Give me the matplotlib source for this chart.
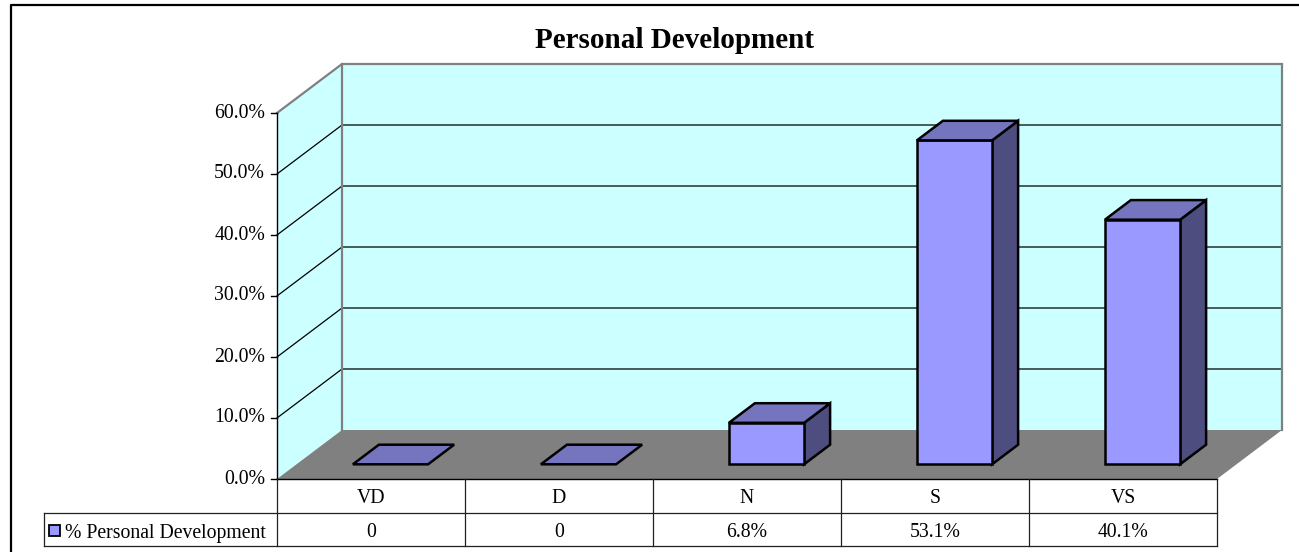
import matplotlib
matplotlib.use("Agg")
import matplotlib.pyplot as plt
from matplotlib.patches import Polygon, Rectangle

# ---- data ----
title = "Personal Development"
series_name = "% Personal Development"
categories = ["VD", "D", "N", "S", "VS"]
values = [0.0, 0.0, 6.8, 53.1, 40.1]
value_labels = ["0", "0", "6.8%", "53.1%", "40.1%"]
y_ticks = [0, 10, 20, 30, 40, 50, 60]
y_tick_labels = ["0.0%", "10.0%", "20.0%", "30.0%", "40.0%", "50.0%", "60.0%"]

# ---- style / geometry (pixels) ----
W, H = 1299, 552
FONT = "Liberation Serif"
FS = 14.2
x0, y0 = 277, 479           # front-left-bottom corner of plot
cat_w = 188                 # width of one category on front plane
ymax = 60.0
px_per_unit = (479 - 113) / ymax
ddx, ddy = 65, -49          # full depth offset
f_front, f_back = 0.3, 0.7  # bar depth placement
bar_frac = 0.4              # bar width as fraction of category

C_WALL = "#CCFFFF"
C_FLOOR = "#808080"
C_FRONT = "#9999FF"
C_TOP = "#7575BF"
C_SIDE = "#4D4D80"

fig = plt.figure(figsize=(W / 100, H / 100), dpi=100)
ax = fig.add_axes([0, 0, 1, 1])
ax.set_xlim(0, W)
ax.set_ylim(H, 0)
ax.axis("off")

n = len(categories)
x1 = x0 + n * cat_w


def proj(xf, v, depth):
    """front-plane x, value, depth fraction -> pixel coords"""
    return (xf + depth * ddx, y0 - v * px_per_unit + depth * ddy)


# outer chart border
ax.plot([11, 11, W + 5], [H + 5, 5, 5], color="black", lw=1.6, solid_capstyle="butt")

# left side wall
ax.add_patch(Polygon([proj(x0, 0, 0), proj(x0, 0, 1), proj(x0, ymax, 1), proj(x0, ymax, 0)],
                     closed=True, facecolor=C_WALL, edgecolor="none", zorder=1))
# back wall
bl = proj(x0, 0, 1)
tr = proj(x1, ymax, 1)
ax.add_patch(Rectangle((bl[0], tr[1]), tr[0] - bl[0], bl[1] - tr[1],
                       facecolor=C_WALL, edgecolor="none", zorder=1))

# gridlines
for t in y_ticks[1:-1]:
    a = proj(x0, t, 0); b = proj(x0, t, 1); c = proj(x1, t, 1)
    ax.plot([a[0], b[0], c[0]], [a[1], b[1], c[1]], color="black", lw=0.9, zorder=2)

# wall outlines (gray)
a = proj(x0, ymax, 0); b = proj(x0, ymax, 1); c = proj(x1, ymax, 1); d = proj(x1, 0, 1); e = proj(x0, 0, 1)
ax.plot([a[0], b[0], c[0], d[0]], [a[1], b[1], c[1], d[1]], color="#808080", lw=1.6, zorder=3,
        solid_joinstyle="miter")
ax.plot([b[0], e[0]], [b[1], e[1]], color="#808080", lw=1.6, zorder=3)

# floor
ax.add_patch(Polygon([proj(x0, 0, 0), proj(x1, 0, 0), proj(x1, 0, 1), proj(x0, 0, 1)],
                     closed=True, facecolor=C_FLOOR, edgecolor="none", zorder=4))

# value axis
ax.plot([x0, x0], [y0, y0 - ymax * px_per_unit], color="black", lw=1.0, zorder=6)
for t, lab in zip(y_ticks, y_tick_labels):
    yy = y0 - t * px_per_unit
    ax.plot([x0 - 6, x0], [yy, yy], color="black", lw=1.0, zorder=6)
    ax.text(x0 - 12, yy, lab, ha="right", va="center", fontsize=FS, family=FONT, zorder=6)

# bars
bw = cat_w * bar_frac
for i, v in enumerate(values):
    xl = x0 + cat_w * (i + 0.5) - bw / 2
    xr = xl + bw
    kw = dict(closed=True, edgecolor="black", lw=1.8, joinstyle="miter", zorder=5)
    if v > 0:
        side = [proj(xr, 0, f_front), proj(xr, 0, f_back), proj(xr, v, f_back), proj(xr, v, f_front)]
        ax.add_patch(Polygon(side, facecolor=C_SIDE, **kw))
        front = [proj(xl, 0, f_front), proj(xr, 0, f_front), proj(xr, v, f_front), proj(xl, v, f_front)]
        ax.add_patch(Polygon(front, facecolor=C_FRONT, **kw))
    top = [proj(xl, v, f_front), proj(xr, v, f_front), proj(xr, v, f_back), proj(xl, v, f_back)]
    ax.add_patch(Polygon(top, facecolor=C_TOP, **kw))

# front floor edge
ax.plot([x0, x1], [y0, y0], color="black", lw=1.0, zorder=6)

# data table
r1_top, r1_bot, r2_bot = y0, 513, 546
leg_x = 44
tcol = "#202020"
ax.plot([leg_x, x1], [r1_bot, r1_bot], color=tcol, lw=0.9, zorder=6)
ax.plot([leg_x, x1], [r2_bot, r2_bot], color=tcol, lw=0.9, zorder=6)
ax.plot([leg_x, leg_x], [r1_bot, r2_bot], color=tcol, lw=0.9, zorder=6)
for i in range(n + 1):
    xx = x0 + i * cat_w
    ax.plot([xx, xx], [r1_top, r2_bot], color=tcol, lw=0.9, zorder=6)
for i, (c, vl) in enumerate(zip(categories, value_labels)):
    xc = x0 + cat_w * (i + 0.5)
    ax.text(xc, 503, c, ha="center", va="baseline", fontsize=FS, family=FONT, zorder=7)
    ax.text(xc, 537, vl, ha="center", va="baseline", fontsize=FS, family=FONT, zorder=7)

# legend key in table
ax.add_patch(Rectangle((49, 525), 11, 11, facecolor=C_FRONT, edgecolor="black", lw=1.3, zorder=7))
ax.text(65, 538, series_name, ha="left", va="baseline", fontsize=FS, family=FONT, zorder=7)

# title
ax.text(675, 48, title, ha="center", va="baseline", fontsize=21, fontweight="bold",
        family=FONT, zorder=7)

fig.savefig("out.png", dpi=100)
